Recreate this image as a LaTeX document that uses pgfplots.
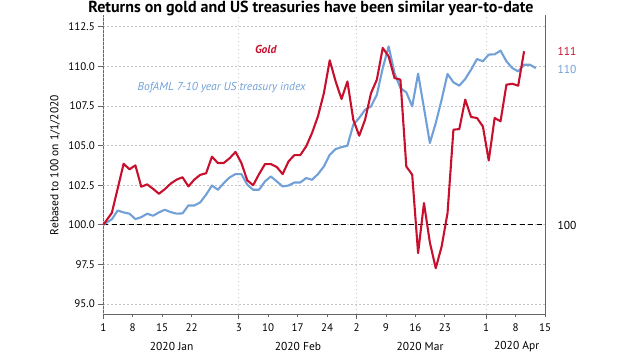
\documentclass[border=0pt]{standalone}
\usepackage{pgfplots}
\pgfplotsset{compat=1.18}
\usepackage{pgfplotstable}
\usepackage{fontspec}
\setmainfont{PT Sans}
\definecolor{goldred}{RGB}{200,16,46}
\definecolor{tsyblue}{RGB}{112,160,215}
\definecolor{axgray}{RGB}{100,100,100}

\pgfplotstableread{
x y
0 100.0
1.45 100.75
2.45 102.3
3.45 103.85
4.45 103.5
5.45 103.75
6.45 102.4
7.45 102.55
8.45 102.27
9.45 101.96
10.45 102.25
11.45 102.6
12.45 102.85
13.45 103.0
14.45 102.42
15.45 102.85
16.45 103.15
17.45 103.25
18.45 104.3
19.45 103.9
20.45 103.9
21.45 104.2
22.45 104.6
23.45 103.9
24.45 102.8
25.45 102.5
26.45 103.2
27.45 103.83
28.45 103.83
29.45 103.65
30.45 103.2
31.45 104.0
32.45 104.4
33.45 104.4
34.45 104.95
35.45 105.8
36.45 106.85
37.45 108.3
38.45 110.38
39.45 109.05
40.45 107.94
41.45 109.05
42.45 106.63
43.45 105.62
44.45 106.63
45.45 108.3
46.45 109.16
47.45 111.16
48.45 110.63
49.45 109.26
50.45 109.16
51.45 103.68
52.45 103.16
53.45 98.21
54.45 101.37
55.45 98.88
56.45 97.26
57.45 98.63
58.45 100.74
59.45 106.0
60.45 106.04
61.45 107.9
62.45 106.8
63.45 106.74
64.45 106.21
65.45 104.06
66.45 106.74
67.45 106.53
68.45 108.84
69.45 108.9
70.45 108.78
71.45 110.95
}\gold

\pgfplotstableread{
x y
0 100.0
1.45 100.35
2.45 100.9
3.45 100.78
4.45 100.7
5.45 100.36
6.45 100.48
7.45 100.7
8.45 100.57
9.45 100.78
10.45 100.95
11.45 100.8
12.45 100.7
13.45 100.72
14.45 101.22
15.45 101.22
16.45 101.41
17.45 101.9
18.45 102.48
19.45 102.21
20.45 102.63
21.45 102.99
22.45 103.2
23.45 103.2
24.45 102.53
25.45 102.21
26.45 102.21
27.45 102.74
28.45 103.05
29.45 102.74
30.45 102.42
31.45 102.48
32.45 102.67
33.45 102.67
34.45 102.95
35.45 102.84
36.45 103.2
37.45 103.68
38.45 104.42
39.45 104.78
40.45 104.9
41.45 104.99
42.45 106.32
43.45 106.74
44.45 107.26
45.45 107.47
46.45 108.21
47.45 109.89
48.45 111.26
49.45 109.58
50.45 108.63
51.45 108.36
52.45 107.47
53.45 109.54
54.45 107.37
55.45 105.16
56.45 106.42
57.45 107.9
58.45 109.52
59.45 108.99
60.45 108.78
61.45 109.2
62.45 109.79
63.45 110.46
64.45 110.32
65.45 110.74
66.45 110.76
67.45 110.99
68.45 110.32
69.45 109.89
70.45 109.68
71.45 110.1
72.45 110.1
73.45 109.89
}\tsy

\begin{document}
\begin{tikzpicture}[x=1pt,y=1pt]
\begin{axis}[
  at={(103.3pt,45.7pt)}, anchor=south west,
  scale only axis, width=441.7pt, height=299.3pt,
  xmin=0, xmax=75, ymin=94.35, ymax=113.24,
  axis lines*=left,
  axis line style={axgray, line width=0.9pt},
  tick align=outside,
  tick style={axgray, line width=0.8pt},
  major tick length=5pt,
  xtick={0,5,10,15,23,28,33,38,43,48,53,58,65,70,75},
  xticklabels={1,8,15,22,3,10,17,24,2,9,16,23,1,8,15},
  major x tick style={/pgfplots/major tick length=2.5pt},
  extra x ticks={0,23,43,65},
  extra x tick labels={},
  extra x tick style={grid=major, major x tick style={/pgfplots/major tick length=5pt}},
  ytick={95,97.5,...,112.5},
  ymajorgrids,
  grid style={gray!45, line width=0.7pt, dash pattern=on 1.4pt off 2.6pt},
  yticklabel style={/pgf/number format/fixed, /pgf/number format/fixed zerofill, /pgf/number format/precision=1},
  /pgf/number format/assume math mode=true,
  tick label style={font=\fontsize{11}{13}\selectfont, text=black},
  xticklabel style={yshift=-1pt},
  clip=false,
]
\draw[axgray, line width=0.9pt] (rel axis cs:1,0) -- (rel axis cs:1,1);
\addplot[black, line width=1.3pt, dash pattern=on 5pt off 3.5pt] coordinates {(0,100) (75,100)};
\addplot[tsyblue, line width=2.1pt, line join=round] table[x=x,y=y] {\tsy};
\addplot[goldred, line width=2.1pt, line join=round] table[x=x,y=y] {\gold};
\end{axis}
\node[anchor=base, font=\bfseries\fontsize{16}{18}\selectfont] at (311,348) {Returns on gold and US treasuries have been similar year-to-date};
\node[rotate=90, font=\fontsize{11.5}{13}\selectfont] at (55,195) {Rebased to 100 on 1/1/2020};
\node[font=\fontsize{11.5}{13}\selectfont] at (171.7,13.3) {2020 Jan};
\node[font=\fontsize{11.5}{13}\selectfont] at (298,13.3) {2020 Feb};
\node[font=\fontsize{11.5}{13}\selectfont] at (420,13.3) {2020 Mar};
\node[font=\fontsize{11.5}{13}\selectfont] at (516.7,13.3) {2020 Apr};
\node[font=\bfseries\itshape\fontsize{11.5}{13}\selectfont, text=goldred] at (265.7,311) {Gold};
\node[font=\itshape\fontsize{11.5}{13}\selectfont, text=tsyblue] at (221.7,272.3) {BofAML 7-10 year US treasury index};
\node[anchor=west, font=\fontsize{11.5}{13}\selectfont, text=goldred] at (554,308.3) {111};
\node[anchor=west, font=\fontsize{11.5}{13}\selectfont, text=tsyblue] at (554,291) {110};
\node[anchor=west, font=\fontsize{11.5}{13}\selectfont, text=black] at (554,135) {100};
\pgfresetboundingbox
\path[use as bounding box] (0,0) rectangle (640,360);
\end{tikzpicture}
\end{document}
